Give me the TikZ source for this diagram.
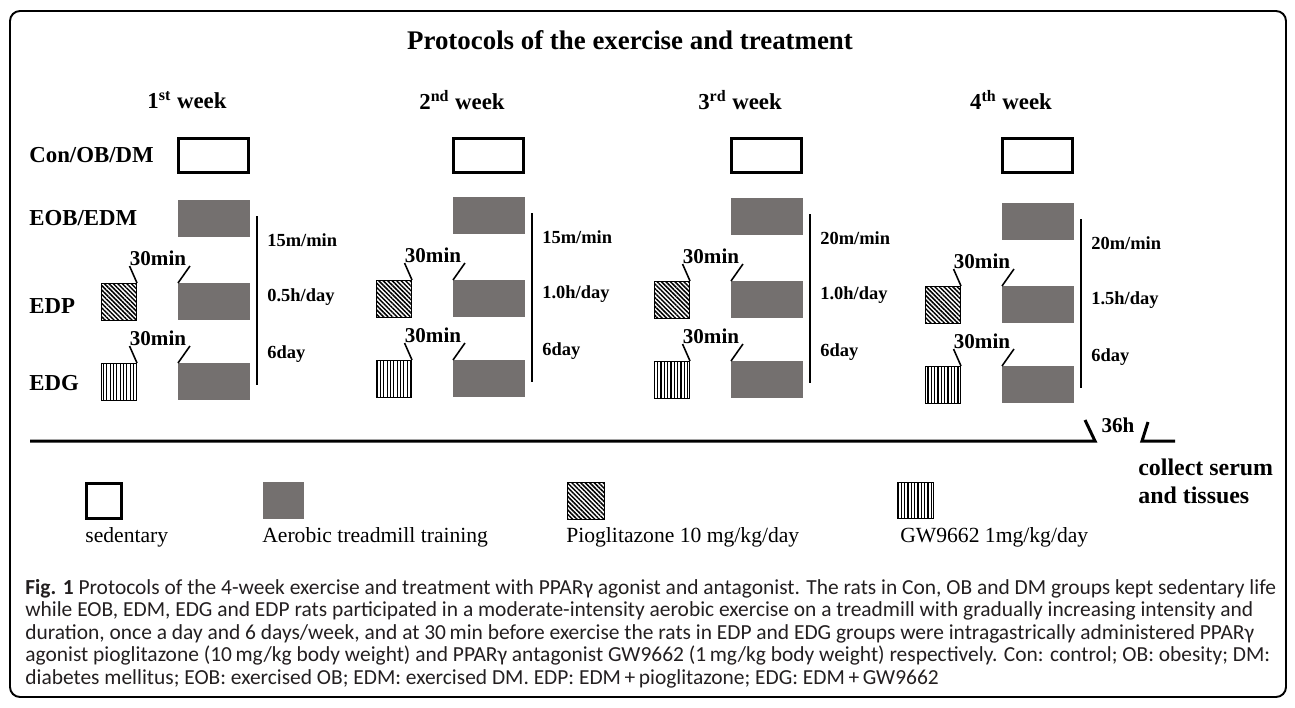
\documentclass[tikz,border=0pt]{standalone}
\usepackage{fontspec}
\setmainfont{Liberation Serif}
\newfontfamily\capfont{Carlito}
\usepackage{tikz}
\usetikzlibrary{patterns.meta}
\definecolor{GrisCinta}{RGB}{116,112,111}
\definecolor{TextoPie}{RGB}{35,31,32}

\begin{document}
\begin{tikzpicture}[x=0.02cm,y=-0.02cm,
  sedbox/.style={draw,line width=1.6pt,minimum width=1.40cm,minimum height=0.68cm,inner sep=0pt},
  runbox/.style={fill=GrisCinta,minimum width=1.44cm,minimum height=0.74cm,inner sep=0pt,anchor=north west},
  piobox/.style={draw,line width=0.5pt,pattern={Lines[angle=-45,distance=1.8pt,line width=0.85pt]},
    minimum width=0.70cm,minimum height=0.74cm,inner sep=0pt,anchor=north east},
  gwbox/.style={draw,line width=0.5pt,pattern={Lines[angle=90,distance=1.9pt,line width=0.65pt]},
    minimum width=0.70cm,minimum height=0.74cm,inner sep=0pt,anchor=north east},
  grp/.style={font=\bfseries\fontsize{13}{15}\selectfont,anchor=west,inner sep=0pt},
  weekhead/.style={font=\bfseries\fontsize{13}{15}\selectfont,inner sep=0pt},
  gap/.style={font=\bfseries\fontsize{12}{14}\selectfont,inner sep=0pt,anchor=south},
  dose/.style={font=\bfseries\fontsize{10.5}{12}\selectfont,anchor=west,inner sep=0pt},
  legend/.style={font=\fontsize{12.3}{14}\selectfont,anchor=west,inner sep=0pt},
  capline/.style={font=\capfont\fontsize{12.2}{14}\selectfont,text=TextoPie,anchor=base west,inner sep=0pt},
  leg/.style={line width=0.9pt}]
  \useasboundingbox (0,0) rectangle (1295,707);
  \draw[line width=1.1pt,rounded corners=0.2cm] (10,11) rectangle (1286,697);
  \node[font=\bfseries\fontsize{15.3}{18}\selectfont] (title) at (630,40) {Protocols of the exercise and treatment};

  \node[grp] (con) at (29,155) {Con/OB/DM};
  \node[grp] (eob) at (29,218) {EOB/EDM};
  \node[grp] (edp) at (29,306) {EDP};
  \node[grp] (edg) at (29,383) {EDG};

  \foreach \G/\dy/\num/\suf/\speed/\dur in {178/0/1/st/15/0.5,453/-3/2/nd/15/1.0,731/-2/3/rd/20/1.0,1002/3/4/th/20/1.5}{
    \node[weekhead] (wk\num) at (\G+9,100) {\num\textsuperscript{\suf} week};
    \node[sedbox] (sed\num) at (\G+35.5,155.5) {};
    \node[runbox] (runa\num) at (\G,200+\dy) {};
    \node[runbox] (runb\num) at (\G,283+\dy) {};
    \node[runbox] (runc\num) at (\G,363+\dy) {};
    \node[piobox] (pio\num) at (\G-41,283+\dy) {};
    \node[gwbox] (gw\num) at (\G-41,363+\dy) {};
    \node[gap] (tp\num) at (\G-20,266+\dy) {30min};
    \node[gap] (tg\num) at (\G-20,346+\dy) {30min};
    \draw[leg] (pio\num.north east) -- (tp\num.south west);
    \draw[leg] (runb\num.north west) -- ([xshift=2pt]tp\num.south east);
    \draw[leg] (gw\num.north east) -- (tg\num.south west);
    \draw[leg] (runc\num.north west) -- ([xshift=2pt]tg\num.south east);
    \draw[line width=1.6pt] (\G+79,216+\dy) -- (\G+79,385+\dy);
    \node[dose] (spd\num) at (\G+89,240+\dy) {\speed m/min};
    \node[dose] (dur\num) at (\G+89,297+\dy) {\dur h/day};
    \node[dose] (day\num) at (\G+89,354+\dy) {6day};
  }

  \draw[line width=1.7pt] (30,441) -- (1095,441) -- (1085,420);
  \node[gap,anchor=center] (h36) at (1118,425) {36h};
  \draw[line width=1.7pt] (1148,422) -- (1142,441) -- (1175,441);
  \node[font=\bfseries\fontsize{13.6}{15.9}\selectfont,align=left,anchor=west,inner sep=0pt] (collect) at (1138,481) {collect serum\\and tissues};

  \node[sedbox,minimum width=0.70cm,minimum height=0.70cm] (lsed) at (104,501) {};
  \node[runbox,minimum width=0.82cm] (lrun) at (263,482) {};
  \node[piobox,minimum width=0.74cm] (lpio) at (605,482) {};
  \node[gwbox,minimum width=0.72cm,minimum height=0.72cm] (lgw) at (934,482) {};
  \node[legend] (tsed) at (85,537) {sedentary};
  \node[legend] (trun) at (262,537) {Aerobic treadmill training};
  \node[legend] (tpio) at (566,537) {Pioglitazone 10 mg/kg/day};
  \node[legend] (tgw) at (900,537) {GW9662 1mg/kg/day};

  \node[capline] (cap1) at (25,594) {{\bfseries Fig. 1} Protocols of the 4-week exercise and treatment with PPARγ agonist and antagonist. The rats in Con, OB and DM groups kept sedentary life};
  \node[capline] (cap2) at (25,616.5) {while EOB, EDM, EDG and EDP rats participated in a moderate-intensity aerobic exercise on a treadmill with gradually increasing intensity and};
  \node[capline] (cap3) at (25,639) {duration, once a day and 6 days/week, and at 30\,min before exercise the rats in EDP and EDG groups were intragastrically administered PPARγ};
  \node[capline] (cap4) at (25,661.5) {agonist pioglitazone (10\,mg/kg body weight) and PPARγ antagonist GW9662 (1\,mg/kg body weight) respectively. Con: control; OB: obesity; DM:};
  \node[capline] (cap5) at (25,684) {diabetes mellitus; EOB: exercised OB; EDM: exercised DM. EDP: EDM\,+\,pioglitazone; EDG: EDM\,+\,GW9662};
\end{tikzpicture}
\end{document}
